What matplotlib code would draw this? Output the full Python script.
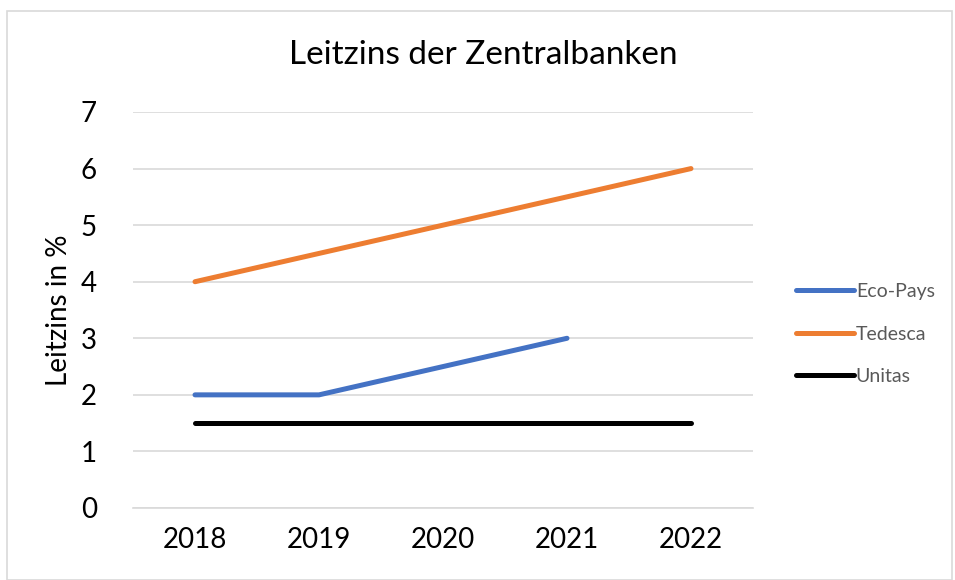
import matplotlib
matplotlib.use("Agg")
import matplotlib.pyplot as plt
from matplotlib.patches import Rectangle

years = ["2018", "2019", "2020", "2021", "2022"]
eco_pays = [2, 2, 2.5, 3]
tedesca = [4, 4.5, 5, 5.5, 6]
unitas = [1.5, 1.5, 1.5, 1.5, 1.5]
yticks = [0, 1, 2, 3, 4, 5, 6, 7]

plt.rcParams['font.family'] = ['Lato', 'DejaVu Sans']

W, H = 955, 580
fig = plt.figure(figsize=(W / 100, H / 100), dpi=100)
fig.patches.append(Rectangle((7 / W, 0), (952 - 7) / W, (H - 11) / H, transform=fig.transFigure,
                             fill=False, edgecolor='#d9d9d9', linewidth=1.2))

ax = fig.add_axes([133 / W, (H - 508) / H, (753 - 133) / W, (508 - 112) / H])
x = list(range(len(years)))
ax.plot(x[:len(eco_pays)], eco_pays, color='#4472c4', linewidth=3.6, label='Eco-Pays', solid_capstyle='round')
ax.plot(x, tedesca, color='#ed7d31', linewidth=3.6, label='Tedesca', solid_capstyle='round')
ax.plot(x, unitas, color='#000000', linewidth=3.6, label='Unitas', solid_capstyle='round')

ax.set_xlim(-0.5, 4.5)
ax.set_ylim(0, 7)
ax.set_xticks(x)
ax.set_xticklabels(years)
ax.set_yticks(yticks)
ax.tick_params(length=0, labelsize=20, pad=14)
ax.tick_params(axis='y', pad=26)
ax.grid(axis='y', color='#d9d9d9', linewidth=1.2)
ax.set_axisbelow(True)
for s in ['top', 'right', 'left']:
    ax.spines[s].set_visible(False)
ax.spines['bottom'].set_color('#d9d9d9')
ax.spines['bottom'].set_linewidth(1.2)
ax.set_ylabel('Leitzins in %', fontsize=20, labelpad=6)

fig.text(483 / W, 1 - 55 / H, 'Leitzins der Zentralbanken', fontsize=24, ha='center', va='center')

leg = fig.legend(loc='center left', bbox_to_anchor=(778 / W, 1 - 334 / H), frameon=False,
                 fontsize=14, handlelength=3.0, handletextpad=0.1, labelspacing=1.3)
for t in leg.get_texts():
    t.set_color('#595959')

fig.savefig('out.png', dpi=100)
